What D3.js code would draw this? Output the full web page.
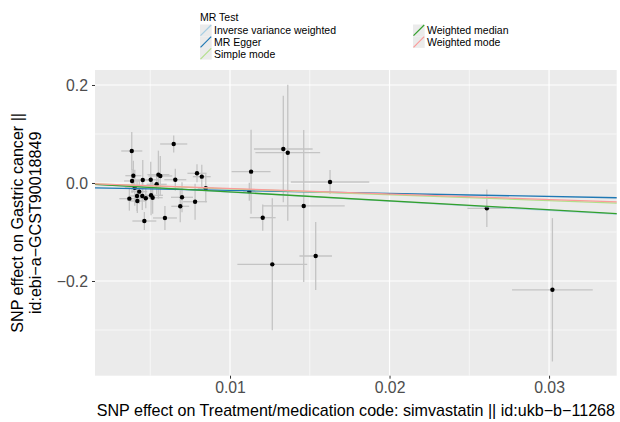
<!DOCTYPE html>
<html lang="en"><head>
<meta charset="utf-8">
<title>MR scatter plot</title>
<script src="https://cdnjs.cloudflare.com/ajax/libs/d3/7.8.5/d3.min.js"></script>
<style>
  body { margin: 0; background: #fff; }
  text { font-family: "Liberation Sans", Arial, Helvetica, sans-serif; }
</style>
</head>
<body>
<svg id="chart" width="620" height="422"></svg>
<script>
// SNP effects (exposure on x, outcome on y) with their standard errors
let snpX  = [0.00384, 0.00647, 0.00394, 0.00386, 0.00453, 0.00503, 0.00551, 0.00563, 0.00657, 0.00793,
             0.00823, 0.00848, 0.00540, 0.00403, 0.00431, 0.00417, 0.00369, 0.00419, 0.00450, 0.00472,
             0.00505, 0.00515, 0.00699, 0.00688, 0.00781, 0.00463, 0.00592,
             0.01132, 0.01334, 0.01362, 0.01627, 0.01462, 0.01205, 0.01537, 0.01121, 0.01265, 0.02610, 0.03021];
let snpY  = [0.0653, 0.0796, 0.0149, 0.0041, 0.0061, 0.0067, 0.0170, 0.0143, 0.0067, 0.0198,
             0.0129, -0.0108, -0.0027, -0.0096, -0.0177, -0.0265, -0.0320, -0.0367, -0.0265, -0.0312,
             -0.0251, -0.0300, -0.0292, -0.0476, -0.0382, -0.0776, -0.0714,
             0.0231, 0.0694, 0.0618, 0.0020, -0.0469, -0.0708, -0.1490, -0.0178, -0.1660, -0.0517, -0.2180];
let seX   = [0.00066, 0.00085, 0.00050, 0.00050, 0.00050, 0.00056, 0.00069, 0.00075, 0.00069, 0.00060,
             0.00056, 0.00050, 0.00063, 0.00063, 0.00050, 0.00044, 0.00063, 0.00050, 0.00056, 0.00044,
             0.00075, 0.00063, 0.00069, 0.00056, 0.00075, 0.00075, 0.00075,
             0.00122, 0.00184, 0.00203, 0.00246, 0.00257, 0.00081, 0.00102, 0.00038, 0.00219, 0.00122, 0.00253];
let seY   = [0.0388, 0.0173, 0.0306, 0.0245, 0.0408, 0.0367, 0.0490, 0.0408, 0.0224, 0.0184,
             0.0245, 0.0286, 0.0204, 0.0367, 0.0245, 0.0306, 0.0245, 0.0245, 0.0286, 0.0204,
             0.0408, 0.0327, 0.0306, 0.0327, 0.0367, 0.0184, 0.0245,
             0.0857, 0.1088, 0.1388, 0.0245, 0.1551, 0.0269, 0.0694, 0.0184, 0.1347, 0.0382, 0.1463];

// MR methods: slope and intercept of each fitted line
let methods    = ["Inverse variance weighted", "MR Egger", "Simple mode", "Weighted median", "Weighted mode"];
let slopes     = [-1.86, -0.61, -1.20, -1.82, -1.12];
let intercepts = [0, -0.0092, 0, 0, 0];
let colors     = ["#a6cee3", "#1f78b4", "#b2df8a", "#33a02c", "#fb9a99"];

let xTicks = [0.01, 0.02, 0.03];
let yTicks = [0.2, 0.0, -0.2];
let xMinor = [0.005, 0.015, 0.025];
let yMinor = [0.1, -0.1, -0.3];

let svg = d3.select("#chart");
let panel = {left: 95, right: 616.7, top: 70, bottom: 375.7};

let x = d3.scaleLinear().domain([0.001536, 0.03424]).range([panel.left, panel.right]);
let y = d3.scaleLinear().domain([-0.3933, 0.2306]).range([panel.bottom, panel.top]);

svg.append("rect")
  .attr("x", panel.left).attr("y", panel.top)
  .attr("width", panel.right - panel.left).attr("height", panel.bottom - panel.top)
  .attr("fill", "#ebebeb");

// grid, minor lines first then majors
let grid = svg.append("g").attr("stroke", "#fff");
grid.selectAll(".xmin").data(xMinor).enter().append("line")
  .attr("x1", d => x(d)).attr("x2", d => x(d))
  .attr("y1", panel.top).attr("y2", panel.bottom)
  .attr("stroke-width", 0.6);
grid.selectAll(".ymin").data(yMinor).enter().append("line")
  .attr("y1", d => y(d)).attr("y2", d => y(d))
  .attr("x1", panel.left).attr("x2", panel.right)
  .attr("stroke-width", 0.6);
grid.selectAll(".xmaj").data(xTicks).enter().append("line")
  .attr("x1", d => x(d)).attr("x2", d => x(d))
  .attr("y1", panel.top).attr("y2", panel.bottom)
  .attr("stroke-width", 1.2);
grid.selectAll(".ymaj").data(yTicks).enter().append("line")
  .attr("y1", d => y(d)).attr("y2", d => y(d))
  .attr("x1", panel.left).attr("x2", panel.right)
  .attr("stroke-width", 1.2);

let pts = snpX.map((v, i) => ({x: v, y: snpY[i], sx: seX[i], sy: seY[i]}));

let plot = svg.append("g");
// error bars
plot.selectAll(".ebv").data(pts).enter().append("line")
  .attr("x1", d => x(d.x)).attr("x2", d => x(d.x))
  .attr("y1", d => y(d.y - d.sy)).attr("y2", d => y(d.y + d.sy))
  .attr("stroke", "#c4c4c4").attr("stroke-width", 1.3);
plot.selectAll(".ebh").data(pts).enter().append("line")
  .attr("y1", d => y(d.y)).attr("y2", d => y(d.y))
  .attr("x1", d => x(d.x - d.sx)).attr("x2", d => x(d.x + d.sx))
  .attr("stroke", "#c4c4c4").attr("stroke-width", 1.3);
plot.selectAll("circle").data(pts).enter().append("circle")
  .attr("cx", d => x(d.x)).attr("cy", d => y(d.y)).attr("r", 2.2)
  .attr("fill", "#000");

// fitted lines across the whole panel
let xs = x.domain();
plot.selectAll(".fit").data(methods).enter().append("line")
  .attr("x1", x(xs[0])).attr("x2", x(xs[1]))
  .attr("y1", (d, i) => y(intercepts[i] + slopes[i] * xs[0]))
  .attr("y2", (d, i) => y(intercepts[i] + slopes[i] * xs[1]))
  .attr("stroke", (d, i) => colors[i]).attr("stroke-width", 1.3);

// axes
let xAxis = svg.append("g").attr("transform", `translate(0,${panel.bottom})`)
  .call(d3.axisBottom(x).tickValues(xTicks).tickSize(3).tickPadding(3).tickFormat(d3.format(".2f")));
let yAxis = svg.append("g").attr("transform", `translate(${panel.left},0)`)
  .call(d3.axisLeft(y).tickValues(yTicks).tickSize(3).tickPadding(4)
    .tickFormat(d => d === 0 ? "0.0" : d3.format(".1f")(d).replace("-", "\u2212")));
[xAxis, yAxis].forEach(a => {
  a.select(".domain").remove();
  a.selectAll(".tick line").attr("stroke", "#333");
  a.selectAll(".tick text").attr("fill", "#4d4d4d").style("font-size", "15.8px")
    .style("font-family", '"Liberation Sans", Arial, sans-serif');
});

svg.append("text")
  .attr("x", (panel.left + panel.right) / 2).attr("y", 416)
  .attr("text-anchor", "middle").style("font-size", "16.1px")
  .text("SNP effect on Treatment/medication code: simvastatin || id:ukb\u2212b\u221211268");

let yt = svg.append("text")
  .attr("transform", `translate(23,${(panel.top + panel.bottom) / 2}) rotate(-90)`)
  .attr("text-anchor", "middle").style("font-size", "16.1px");
yt.append("tspan").attr("x", 0).attr("y", 0).text("SNP effect on Gastric cancer ||");
yt.append("tspan").attr("x", 0).attr("y", 17.5).text("id:ebi\u2212a\u2212GCST90018849");

// legend
let legend = svg.append("g").style("font-size", "10.5px");
legend.append("text").attr("x", 200).attr("y", 20.5).text("MR Test");
let legPos = [[200, 24.5], [200, 36.2], [200, 47.9], [413, 24.5], [413, 36.2]];
let keys = legend.selectAll(".key").data(methods).enter().append("g")
  .attr("transform", (d, i) => `translate(${legPos[i][0]},${legPos[i][1]})`);
keys.append("rect").attr("width", 11.7).attr("height", 11.7).attr("fill", "#ebebeb");
keys.append("line").attr("x1", 0.5).attr("y1", 11.2).attr("x2", 11.2).attr("y2", 0.5)
  .attr("stroke", (d, i) => colors[i]).attr("stroke-width", 1.2);
keys.append("text").attr("x", 14).attr("y", 9.6).text(d => d);
</script>
</body>
</html>
